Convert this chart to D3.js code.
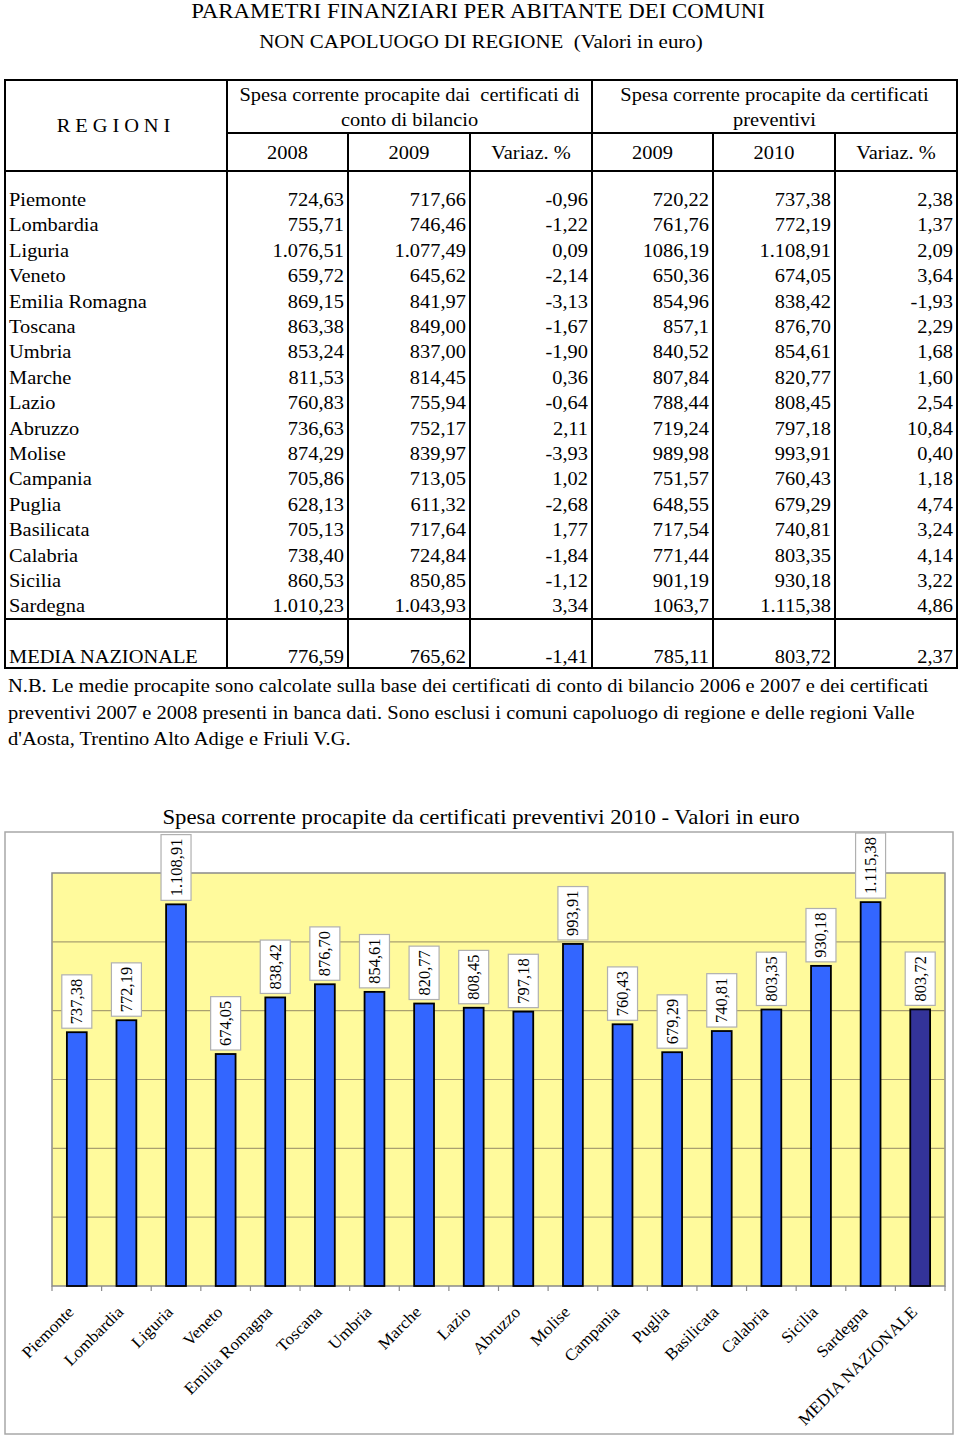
<!DOCTYPE html>
<html><head><meta charset="utf-8">
<script src="https://cdn.jsdelivr.net/npm/d3@7"></script>
<style>
html,body{margin:0;padding:0;background:#fff;}
svg text{font-family:"Liberation Serif","Times New Roman",serif;fill:#000;white-space:pre;}
</style></head>
<body>
<svg id="c" width="960" height="1438"></svg>
<script>
// ---------- DATA ----------
const regions = ["Piemonte","Lombardia","Liguria","Veneto","Emilia Romagna","Toscana","Umbria","Marche","Lazio","Abruzzo","Molise","Campania","Puglia","Basilicata","Calabria","Sicilia","Sardegna"];
const bil2008 = ["724,63","755,71","1.076,51","659,72","869,15","863,38","853,24","811,53","760,83","736,63","874,29","705,86","628,13","705,13","738,40","860,53","1.010,23"];
const bil2009 = ["717,66","746,46","1.077,49","645,62","841,97","849,00","837,00","814,45","755,94","752,17","839,97","713,05","611,32","717,64","724,84","850,85","1.043,93"];
const bilVar = ["-0,96","-1,22","0,09","-2,14","-3,13","-1,67","-1,90","0,36","-0,64","2,11","-3,93","1,02","-2,68","1,77","-1,84","-1,12","3,34"];
const prev2009 = ["720,22","761,76","1086,19","650,36","854,96","857,1","840,52","807,84","788,44","719,24","989,98","751,57","648,55","717,54","771,44","901,19","1063,7"];
const prev2010Txt = ["737,38","772,19","1.108,91","674,05","838,42","876,70","854,61","820,77","808,45","797,18","993,91","760,43","679,29","740,81","803,35","930,18","1.115,38"];
const prevVar = ["2,38","1,37","2,09","3,64","-1,93","2,29","1,68","1,60","2,54","10,84","0,40","1,18","4,74","3,24","4,14","3,22","4,86"];
const mediaRow = ["MEDIA NAZIONALE","776,59","765,62","-1,41","785,11","803,72","2,37"];

// chart series
const chartCats = regions.concat(["MEDIA NAZIONALE"]);
const chartValues = [737.38,772.19,1108.91,674.05,838.42,876.70,854.61,820.77,808.45,797.18,993.91,760.43,679.29,740.81,803.35,930.18,1115.38,803.72];
const yTicks = [200,400,600,800,1000];

// ---------- DRAW ----------
const svg = d3.select("#c");
const it = d3.formatLocale({decimal:",", thousands:".", grouping:[3], currency:["","€"]});
const fmt = it.format(",.2f");

function txt(x, y, s, size, anchor, sx, extra){
  const t = svg.append("text")
    .attr("transform", `translate(${x},${y}) scale(${sx||1.075},1)`)
    .attr("text-anchor", anchor||"start")
    .style("font-size", size+"px")
    .text(s);
  if (extra) extra(t);
  return t;
}

// Titles
txt(478, 18, "PARAMETRI FINANZIARI PER ABITANTE DEI COMUNI", 21, "middle", 1.09);
txt(481, 48, "NON CAPOLUOGO DI REGIONE  (Valori in euro)", 19.3, "middle", 1.085);

// Table
const colX = [5,227,348,470,592,713,835,957];
const T = {top:80, mid:133, hdr:171, sep:619, bot:668};
const tg = svg.append("g").attr("stroke","#000").attr("stroke-width",2).attr("fill","none");
tg.append("rect").attr("x",colX[0]).attr("y",T.top).attr("width",colX[7]-colX[0]).attr("height",T.bot-T.top);
tg.append("line").attr("x1",colX[1]).attr("x2",colX[7]).attr("y1",T.mid).attr("y2",T.mid);
[T.hdr,T.sep].forEach(y=>tg.append("line").attr("x1",colX[0]).attr("x2",colX[7]).attr("y1",y).attr("y2",y));
[colX[1],colX[4]].forEach(x=>tg.append("line").attr("x1",x).attr("x2",x).attr("y1",T.top).attr("y2",T.bot));
[colX[2],colX[3],colX[5],colX[6]].forEach(x=>tg.append("line").attr("x1",x).attr("x2",x).attr("y1",T.mid).attr("y2",T.bot));

const fs = 19;
txt(116, 132, "REGIONI", fs, "middle", 1.075, t=>t.style("letter-spacing","4.6px"));
const hdr1 = ["Spesa corrente procapite dai  certificati di","conto di bilancio"];
const hdr2 = ["Spesa corrente procapite da certificati","preventivi"];
hdr1.forEach((s,i)=>txt((colX[1]+colX[4])/2, 101+i*25, s, fs, "middle"));
hdr2.forEach((s,i)=>txt((colX[4]+colX[7])/2, 101+i*25, s, fs, "middle"));
const years = ["2008","2009","Variaz. %","2009","2010","Variaz. %"];
years.forEach((s,i)=>txt((colX[i+1]+colX[i+2])/2, 159, s, fs, "middle"));

const cols = [bil2008,bil2009,bilVar,prev2009,prev2010Txt,prevVar];
const rowY = i => 206 + i*25.4;
regions.forEach((r,i)=>{
  txt(9, rowY(i), r, fs, "start");
  cols.forEach((c,j)=>txt(colX[j+2]-4, rowY(i), c[i], fs, "end"));
});
txt(9, 663, mediaRow[0], fs, "start");
mediaRow.slice(1).forEach((v,j)=>txt(colX[j+2]-4, 663, v, fs, "end"));

const notes = ["N.B. Le medie procapite sono calcolate sulla base dei certificati di conto di bilancio 2006 e 2007 e dei certificati",
 "preventivi 2007 e 2008 presenti in banca dati. Sono esclusi i comuni capoluogo di regione e delle regioni Valle",
 "d'Aosta, Trentino Alto Adige e Friuli V.G."];
notes.forEach((s,i)=>txt(8, 692+i*26.5, s, fs, "start", 1.078));

// Chart
txt(481, 824, "Spesa corrente procapite da certificati preventivi 2010 - Valori in euro", 21, "middle", 1.085);
svg.append("rect").attr("x",5).attr("y",832).attr("width",948).attr("height",602)
  .attr("fill","#fff").attr("stroke","#a8a8a8").attr("stroke-width",1.5);

const P = {l:52, r:945, t:873, b:1286};
const x = d3.scaleBand().domain(chartCats).range([P.l,P.r]);
const y = d3.scaleLinear().domain([0,1200]).range([P.b,P.t]);
svg.append("rect").attr("x",P.l).attr("y",P.t).attr("width",P.r-P.l).attr("height",P.b-P.t)
  .attr("fill","#FFFA9C").attr("stroke","#8a8a8a").attr("stroke-width",1.5);
svg.append("g").selectAll("line").data(yTicks).join("line")
  .attr("x1",P.l).attr("x2",P.r).attr("y1",d=>y(d)).attr("y2",d=>y(d))
  .attr("stroke","#aaa070").attr("stroke-width",1.2);
// bottom ticks at category boundaries
const bounds = chartCats.map(c=>x(c)).concat([P.r]);
svg.append("g").selectAll("line").data(bounds).join("line")
  .attr("x1",d=>d).attr("x2",d=>d).attr("y1",P.b).attr("y2",P.b+5)
  .attr("stroke","#8a8a8a").attr("stroke-width",1.2);

const bw = x.bandwidth();
const bars = svg.append("g");
bars.selectAll("rect").data(chartCats).join("rect")
  .attr("x",(d)=>x(d)+bw*0.3).attr("width",bw*0.4)
  .attr("y",(d,i)=>y(chartValues[i])).attr("height",(d,i)=>P.b-y(chartValues[i]))
  .attr("fill",(d,i)=>i===chartCats.length-1?"#333399":"#3366FF")
  .attr("stroke","#000").attr("stroke-width",1.8);

// value labels
const lg = svg.append("g");
chartCats.forEach((c,i)=>{
  const cx = x(c)+bw/2;
  const top = y(chartValues[i]);
  const g = lg.append("g");
  const rect = g.append("rect").attr("fill","#fff").attr("stroke","#b0b0b0").attr("stroke-width",1.2);
  const t = g.append("text").attr("transform",`translate(${cx+5.5},${top-8}) rotate(-90)`)
    .style("font-size","16.5px").text(fmt(chartValues[i]));
  const len = t.node().getComputedTextLength();
  rect.attr("x",cx-15).attr("width",30).attr("y",top-4-len-8).attr("height",len+8);
});

// x labels
svg.append("g").selectAll("text").data(chartCats).join("text")
  .attr("transform",d=>`translate(${x(d)+bw/2-2},${P.b+27}) rotate(-45) scale(1.05,1)`)
  .attr("text-anchor","end").style("font-size","16.5px").text(d=>d);
</script>
</body></html>
